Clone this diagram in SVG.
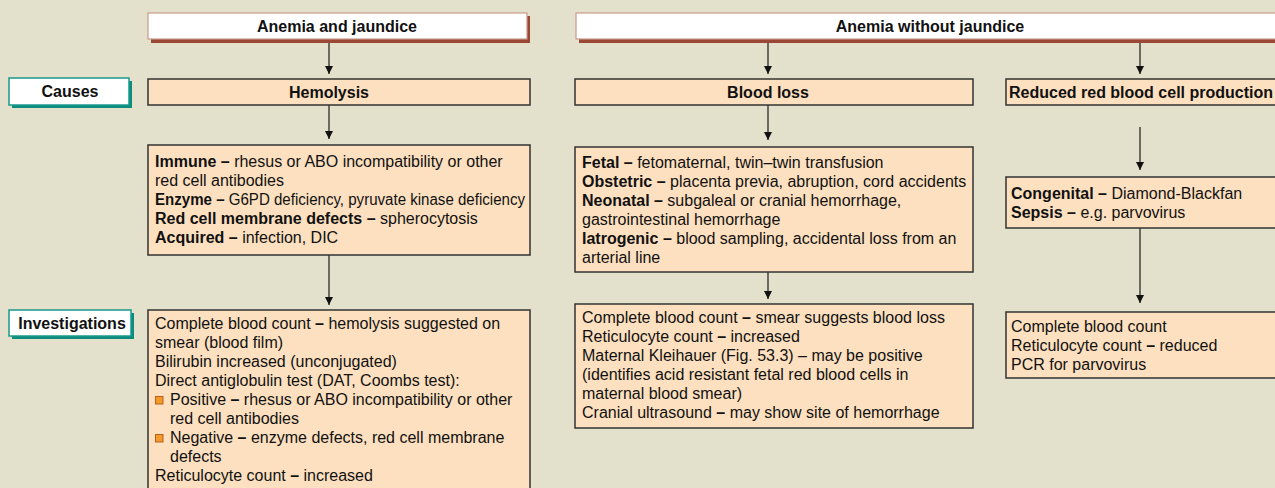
<svg xmlns="http://www.w3.org/2000/svg" width="1275" height="488" viewBox="0 0 1275 488">
<defs>
<style>
text{font-family:"Liberation Sans",Arial,Helvetica,sans-serif;font-size:16px;fill:#111}
.b{font-weight:bold}
.title{fill:#fff;stroke:#c89a8a;stroke-width:1.2}
.tshadow{fill:#9a4833}
.label{fill:#fff;stroke:#17998a;stroke-width:1.5}
.lshadow{fill:#0d8b7d}
.peach{fill:#fde0bf;stroke:#333;stroke-width:1.5}
.conn{stroke:#2a2a2a;stroke-width:1.3;fill:none;marker-end:url(#ah)}
.bul{fill:#f39a2b;stroke:#b8601e;stroke-width:1}
</style>
<marker id="ah" viewBox="0 0 8 8" refX="8" refY="4" markerWidth="8" markerHeight="8" markerUnits="userSpaceOnUse" orient="auto">
<path d="M0,0 L8,4 L0,8 Z" fill="#111"/>
</marker>
</defs>
<rect x="0" y="0" width="1275" height="488" fill="#e3e0cb"/>

<g id="connectors">
<line class="conn" x1="329" y1="40" x2="329" y2="74"/>
<line class="conn" x1="329" y1="105" x2="329" y2="139"/>
<line class="conn" x1="329" y1="255" x2="329" y2="305"/>
<line class="conn" x1="768" y1="40" x2="768" y2="74"/>
<line class="conn" x1="768" y1="105" x2="768" y2="140"/>
<line class="conn" x1="768" y1="272" x2="768" y2="299"/>
<line class="conn" x1="1140" y1="40" x2="1140" y2="74"/>
<line class="conn" x1="1140" y1="127" x2="1140" y2="170"/>
<line class="conn" x1="1140" y1="228" x2="1140" y2="303"/>
</g>

<g id="anemia-jaundice">
<rect class="tshadow" x="151" y="16" width="379" height="27"/>
<rect class="title" x="148" y="13" width="379" height="26"/>
<text class="b" x="337" y="32" text-anchor="middle">Anemia and jaundice</text>
</g>

<g id="anemia-without-jaundice">
<rect class="tshadow" x="579" y="16" width="710" height="27"/>
<rect class="title" x="576" y="13" width="710" height="26"/>
<text class="b" x="930" y="32" text-anchor="middle">Anemia without jaundice</text>
</g>

<g id="causes-label">
<rect class="lshadow" x="12" y="81" width="120" height="27"/>
<rect class="label" x="9" y="78" width="120" height="27"/>
<text class="b" x="70" y="97" text-anchor="middle">Causes</text>
</g>

<g id="investigations-label">
<rect class="lshadow" x="12" y="313" width="122" height="26"/>
<rect class="label" x="9" y="310" width="122" height="26"/>
<text class="b" x="72" y="329" text-anchor="middle">Investigations</text>
</g>

<g id="hemolysis">
<rect class="peach" x="148" y="79" width="382" height="26"/>
<text class="b" x="329" y="98" text-anchor="middle">Hemolysis</text>
</g>

<g id="blood-loss">
<rect class="peach" x="575" y="79" width="398" height="26"/>
<text class="b" x="768" y="98" text-anchor="middle">Blood loss</text>
</g>

<g id="reduced-production">
<rect class="peach" x="1006" y="79" width="290" height="26"/>
<text class="b" x="1141" y="98" text-anchor="middle">Reduced red blood cell production</text>
</g>

<g id="hemolysis-causes">
<rect class="peach" x="148" y="145" width="382" height="110"/>
<text x="155" y="167"><tspan class="b">Immune –</tspan> rhesus or ABO incompatibility or other</text>
<text x="155" y="186">red cell antibodies</text>
<text x="155" y="205" textLength="370" lengthAdjust="spacingAndGlyphs"><tspan class="b">Enzyme –</tspan> G6PD deficiency, pyruvate kinase deficiency</text>
<text x="155" y="224"><tspan class="b">Red cell membrane defects –</tspan> spherocytosis</text>
<text x="155" y="243"><tspan class="b">Acquired –</tspan> infection, DIC</text>
</g>

<g id="blood-loss-causes">
<rect class="peach" x="575" y="147" width="398" height="125"/>
<text x="582" y="168"><tspan class="b">Fetal –</tspan> fetomaternal, twin–twin transfusion</text>
<text x="582" y="187"><tspan class="b">Obstetric –</tspan> placenta previa, abruption, cord accidents</text>
<text x="582" y="206"><tspan class="b">Neonatal –</tspan> subgaleal or cranial hemorrhage,</text>
<text x="582" y="225">gastrointestinal hemorrhage</text>
<text x="582" y="244"><tspan class="b">Iatrogenic –</tspan> blood sampling, accidental loss from an</text>
<text x="582" y="263">arterial line</text>
</g>

<g id="reduced-causes">
<rect class="peach" x="1006" y="177" width="290" height="51"/>
<text x="1011" y="199"><tspan class="b">Congenital –</tspan> Diamond-Blackfan</text>
<text x="1011" y="218"><tspan class="b">Sepsis –</tspan> e.g. parvovirus</text>
</g>

<g id="hemolysis-investigations">
<rect class="peach" x="148" y="310" width="382" height="195"/>
<text x="155" y="329">Complete blood count <tspan class="b">–</tspan> hemolysis suggested on</text>
<text x="155" y="348">smear (blood film)</text>
<text x="155" y="367">Bilirubin increased (unconjugated)</text>
<text x="155" y="386">Direct antiglobulin test (DAT, Coombs test):</text>
<rect class="bul" x="155.5" y="396.5" width="7.5" height="7.5"/>
<text x="170" y="405">Positive <tspan class="b">–</tspan> rhesus or ABO incompatibility or other</text>
<text x="170" y="424">red cell antibodies</text>
<rect class="bul" x="155.5" y="434.5" width="7.5" height="7.5"/>
<text x="170" y="443">Negative <tspan class="b">–</tspan> enzyme defects, red cell membrane</text>
<text x="170" y="462">defects</text>
<text x="155" y="481">Reticulocyte count <tspan class="b">–</tspan> increased</text>
</g>

<g id="blood-loss-investigations">
<rect class="peach" x="575" y="304" width="398" height="124"/>
<text x="582" y="323">Complete blood count <tspan class="b">–</tspan> smear suggests blood loss</text>
<text x="582" y="342">Reticulocyte count <tspan class="b">–</tspan> increased</text>
<text x="582" y="361">Maternal Kleihauer (Fig. 53.3) – may be positive</text>
<text x="582" y="380">(identifies acid resistant fetal red blood cells in</text>
<text x="582" y="399">maternal blood smear)</text>
<text x="582" y="418">Cranial ultrasound <tspan class="b">–</tspan> may show site of hemorrhage</text>
</g>

<g id="reduced-investigations">
<rect class="peach" x="1006" y="312" width="290" height="66"/>
<text x="1011" y="332">Complete blood count</text>
<text x="1011" y="351">Reticulocyte count <tspan class="b">–</tspan> reduced</text>
<text x="1011" y="370">PCR for parvovirus</text>
</g>
</svg>
